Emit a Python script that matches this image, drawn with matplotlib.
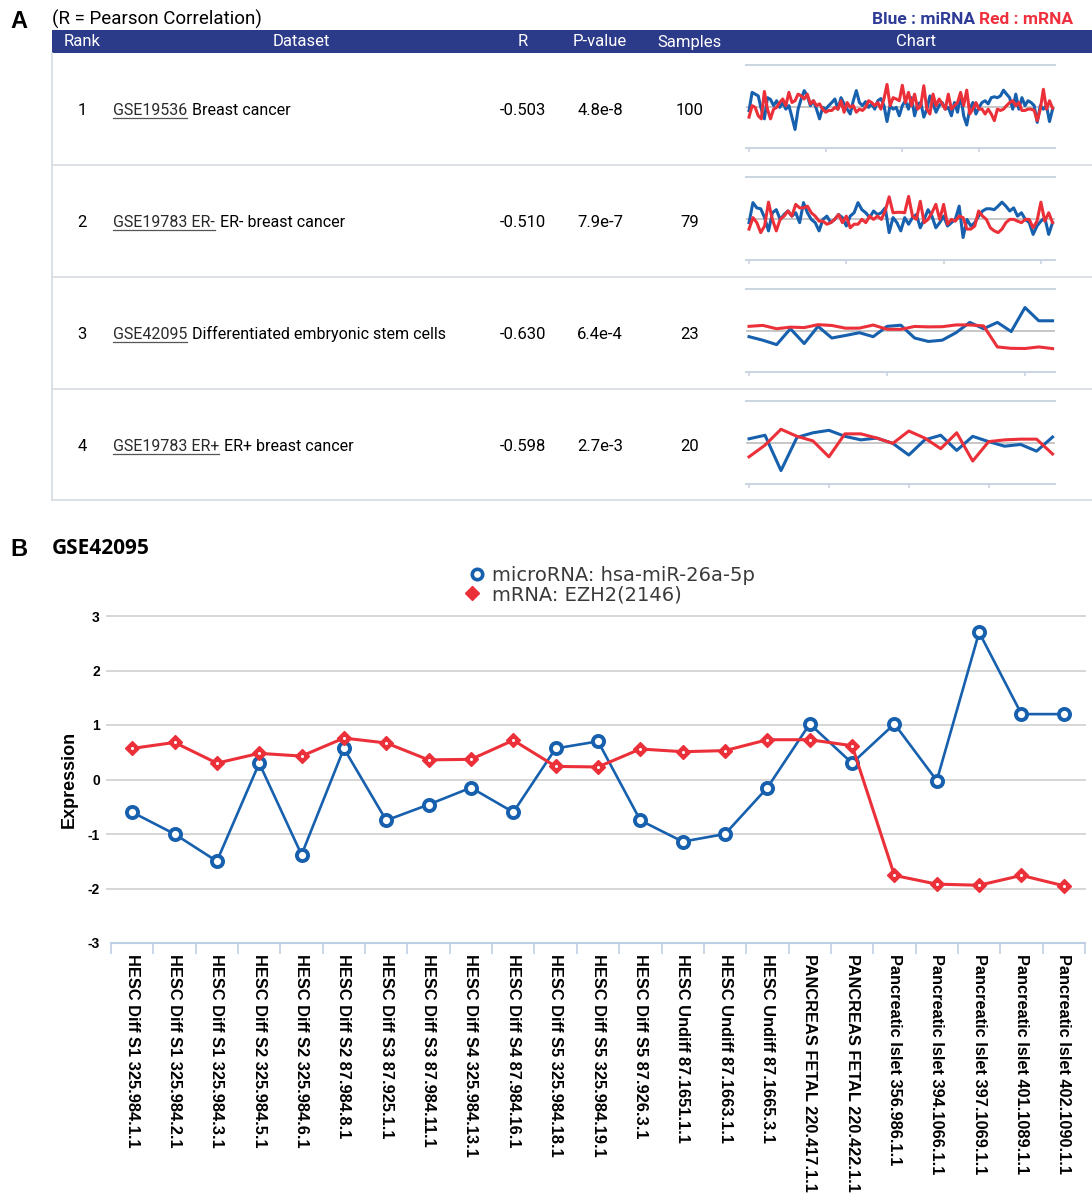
import matplotlib
matplotlib.use('Agg')
import matplotlib.pyplot as plt
from matplotlib.lines import Line2D
from matplotlib.patches import Rectangle
from matplotlib.legend_handler import HandlerTuple
import numpy as np

# ---------------- data ----------------
ranks = [1, 2, 3, 4]
dataset_ids = ['GSE19536', 'GSE19783 ER-', 'GSE42095', 'GSE19783 ER+']
dataset_desc = ['Breast cancer', 'ER- breast cancer',
                'Differentiated embryonic stem cells', 'ER+ breast cancer']
r_values = ['-0.503', '-0.510', '-0.630', '-0.598']
p_values = ['4.8e-8', '7.9e-7', '6.4e-4', '2.7e-3']
samples = [100, 79, 23, 20]
header_cols = ['Rank', 'Dataset', 'R', 'P-value', 'Samples', 'Chart']

spark1_mirna = [-0.37, 1.7, 1.5, 1.3, -0.2, -1.3, 1.1, 0.9, 0.2, 0.75,
                0, 0.55, -0.2, 0.2, -1.1, -2.5, -0.2, 0.95, 1.9, 1.3,
                0.2, 0.75, -0.2, -1.3, 0, -0.2, 0.2, 0.55, 0.95, -0.2,
                1.1, 0.4, -0.2, -0.75, 0.75, 1.9, 0.55, 0.2, 0.65, 0,
                0.4, -0.2, 0.75, 1.0, 0.2, -1.6, 0.2, -0.2, 0, -0.95,
                0.2, 0.75, -0.2, 1.1, -0.95, 0.4, 0.55, -1.1, -0.2, 1.3,
                0.4, -0.55, 0.2, 0.55, -0.2, 0, -0.95, 0.55, -0.55, 1.5,
                -0.95, -2.0, -0.2, 0.55, -0.75, 0, 0.55, 0.75, 0.4, 1.1,
                1.2, 1.1, 1.3, 1.95, 1.5, 1.1, -0.2, 1.5, -0.2, 1.1,
                0.2, 0.75, 0.55, 0.2, -1.7, 0.2, -0.2, 0.2, -1.6, -0.2]
spark1_mrna = [-1.1, 0.2, 0, -0.95, -1.3, 1.8, -0.2, -1.3, -0.2, 0,
               0.55, 0.95, 0.2, 1.7, 0.55, 0.75, 1.5, 1.3, 0.95, 1.5,
               0.4, 0.75, 0.2, 0.4, -0.2, -0.55, -0.35, -0.35, 0, -0.2,
               0.75, -0.55, 0.55, 0, 0.2, -0.55, -0.2, -0.35, 0, 0.75,
               0.55, 0.2, 0.55, -0.2, 0.95, 2.6, 0.2, 1.1, 0.95, 0.75,
               2.5, 0.55, 1.7, 0.2, 1.5, -0.2, 0.2, 2.45, -0.2, -0.75,
               1.5, 0.2, 0.95, 0.4, -0.2, 1.5, -0.2, 0.2, 0.55, 1.7,
               0.2, 1.95, -0.75, -0.2, 0.55, -0.2, -0.2, -0.75, -0.2, -0.75,
               -1.5, -0.2, -0.35, -0.2, 0.2, 0.55, 0.75, 0.2, 0.55, -0.35,
               -0.35, -0.2, -0.2, -0.35, -1.5, -0.2, 2.05, -0.2, 0.75, -0.1]

spark2_mirna = [-0.37, 1.9, 1.3, 1.2, 0.2, -1.3, 0.75, 1.1, 0, 0.55,
                0.95, 0.37, 0.75, -0.37, 1.9, 0.75, 0, -0.37, -1.3, 0,
                0.37, -0.37, 0, 0.55, 0.2, -0.75, 0.37, 0.75, 1.9, 1.1,
                0.75, 0.2, 0.95, 0.55, 0.75, 1.3, -1.5, 0.2, -0.37, -1.3,
                0.2, -0.55, 0.2, 0.55, -0.95, 0, 1.1, 0.37, -0.95, -0.37,
                0.37, -0.75, -0.37, 0, 1.5, -2.05, 0, -0.75, -0.37, 0.37,
                0.95, 1.2, 1.2, 1.1, 1.5, 1.95, 1.5, 0.95, 1.3, 0.37,
                0.75, 0, -0.37, -1.7, -0.75, -0.2, 0.2, -1.7, -0.37]
spark2_mrna = [-1.1, 0.2, -0.37, -1.5, -0.75, 1.95, 0, -1.3, 0, 0.37,
               0.95, 0.37, 1.7, 1.3, 1.3, 1.5, 0.75, 0.37, -0.2, -0.2,
               -0.55, -0.37, 0, 0.55, -0.37, 0.37, -0.95, -0.55, -0.55, 0,
               -0.37, 0.37, 0, 0.37, 0, 0.95, 2.55, 0.75, 0.8, 0.8,
               0.75, 2.6, 0.37, 0, 2.05, -0.37, 0, 0.75, 1.7, 0,
               1.7, -0.55, 0, -0.2, 0.37, 0.2, -1.1, -1.1, -0.75, 0.95,
               0.37, 0, -0.95, -1.3, -1.5, -1.1, -0.37, 0, 0, -0.2,
               -0.37, 0, 0, -0.95, -0.2, 1.95, -0.2, 0.75, -0.37]

spark4_mirna = [0.52, 0.92, -3.08, 0.68, 1.2, 1.48, 0.8, 0.4, 0.6, 0,
                -1.32, 0.4, 0.92, -0.8, 0.8, 0.2, -0.32, -0.12, -0.88, 0.72]
spark4_mrna = [-1.52, -0.2, 1.6, 0.8, 0.28, -1.52, 1.08, 1.08, 0.6, 0,
               1.4, 0.6, -0.6, 1.2, -2.0, 0.2, 0.4, 0.48, 0.48, -1.2]

# Panel B (GSE42095)
samples_b = ['HESC Diff S1 325.984.1.1', 'HESC Diff S1 325.984.2.1',
             'HESC Diff S1 325.984.3.1', 'HESC Diff S2 325.984.5.1',
             'HESC Diff S2 325.984.6.1', 'HESC Diff S2 87.984.8.1',
             'HESC Diff S3 87.925.1.1', 'HESC Diff S3 87.984.11.1',
             'HESC Diff S4 325.984.13.1', 'HESC Diff S4 87.984.16.1',
             'HESC Diff S5 325.984.18.1', 'HESC Diff S5 325.984.19.1',
             'HESC Diff S5 87.926.3.1', 'HESC Undiff 87.1651.1.1',
             'HESC Undiff 87.1663.1.1', 'HESC Undiff 87.1665.3.1',
             'PANCREAS FETAL 220.417.1.1', 'PANCREAS FETAL 220.422.1.1',
             'Pancreatic Islet 356.986.1.1', 'Pancreatic Islet 394.1066.1.1',
             'Pancreatic Islet 397.1069.1.1', 'Pancreatic Islet 401.1089.1.1',
             'Pancreatic Islet 402.1090.1.1']
mirna_b = [-0.6, -1.0, -1.5, 0.3, -1.38, 0.57, -0.75, -0.46, -0.15, -0.6,
           0.57, 0.7, -0.75, -1.14, -1.0, -0.15, 1.02, 0.3, 1.02, -0.02,
           2.7, 1.2, 1.2]
mrna_b = [0.57, 0.68, 0.3, 0.48, 0.43, 0.76, 0.67, 0.36, 0.37, 0.72,
          0.24, 0.23, 0.56, 0.51, 0.53, 0.73, 0.73, 0.62, -1.76, -1.92,
          -1.94, -1.76, -1.95]
yticks_b = [-3, -2, -1, 0, 1, 2, 3]

spark_data = [(spark1_mirna, spark1_mrna, 25), (spark2_mirna, spark2_mrna, 25),
              (mirna_b, mrna_b, 10), (spark4_mirna, spark4_mrna, 5)]

# ---------------- style ----------------
BLUE = '#1660AE'
RED = '#EC3039'
HEADER = '#2C3A8A'
GRID = '#D6DCE3'
COND = ['Liberation Sans Narrow', 'Roboto', 'DejaVu Sans']
ARIAL = ['Liberation Sans', 'DejaVu Sans']
VERD = ['DejaVu Sans']

W, H = 1092, 1193
fig = plt.figure(figsize=(W / 100, H / 100), dpi=100)
fig.patch.set_facecolor('white')


def fx(x):
    return x / W


def fy(y):
    return 1 - y / H


ax0 = fig.add_axes([0, 0, 1, 1])
ax0.set_xlim(0, W)
ax0.set_ylim(H, 0)
ax0.axis('off')

# ---------------- Panel A ----------------
ax0.text(10, 21, 'A', fontsize=17, fontweight='bold', family=ARIAL, va='center', ha='left')
ax0.text(52, 19, '(R = Pearson Correlation)', fontsize=13.5, family=COND,
         va='center', ha='left')
t_red = ax0.text(1073, 19, 'Red : mRNA', fontsize=12.5, family=COND, color='#F0303C',
                 va='center', ha='right', fontweight='bold')

ax0.add_patch(Rectangle((52, 30), W - 52, 23, facecolor=HEADER, edgecolor='none'))
head_x = [82, 301, 523, 600, 690, 916]
for hx, lab in zip(head_x, header_cols):
    ax0.text(hx, 42, lab, color='white', fontsize=12, family=COND,
             ha='center', va='center')

row_c = [110, 222, 334, 446]
row_sep = [165, 277, 389, 500]
ax0.plot([52, 52], [53, 500], color=GRID, lw=1.2)
for ys in row_sep:
    ax0.plot([52, W], [ys, ys], color=GRID, lw=1.2)

id_texts = []
for k in range(4):
    c = row_c[k]
    ax0.text(82, c + 5, str(ranks[k]), fontsize=12, family=COND, ha='center', va='baseline')
    t = ax0.text(113, c + 5, dataset_ids[k], fontsize=11.5, family=COND,
                 ha='left', va='baseline', color='#2a2a2a')
    id_texts.append(t)
    ax0.text(523, c + 5, r_values[k], fontsize=12, family=COND, ha='center', va='baseline')
    ax0.text(600, c + 5, p_values[k], fontsize=12, family=COND, ha='center', va='baseline')
    ax0.text(690, c + 5, str(samples[k]), fontsize=12, family=COND, ha='center', va='baseline')

fig.canvas.draw()
inv = ax0.transData.inverted()
for k, t in enumerate(id_texts):
    bb = t.get_window_extent()
    x0, _ = inv.transform((bb.x0, bb.y0))
    x1, _ = inv.transform((bb.x1, bb.y0))
    c = row_c[k]
    ax0.plot([x0, x1], [c + 7.5, c + 7.5], color='#555555', lw=0.9)
    ax0.text(x1 + 5, c + 5, dataset_desc[k], fontsize=11.5, family=COND,
             ha='left', va='baseline', color='black')
bb = t_red.get_window_extent()
xr, _ = inv.transform((bb.x0, bb.y0))
ax0.text(xr - 4, 19, 'Blue : miRNA', fontsize=12.5, family=COND, color='#2E3C98',
         va='center', ha='right', fontweight='bold')

# sparklines
for k, (mi, mr, step) in enumerate(spark_data):
    c = row_c[k]
    top, bot = c - 45, c + 38
    axs = fig.add_axes([fx(746), fy(bot), (1055 - 746) / W, (bot - top) / H])
    n = len(mi)
    xs = np.arange(n)
    axs.axhline(0, color='#BDBDBD', lw=1.2, zorder=1)
    axs.plot(xs, mi, color=BLUE, lw=2.2, zorder=3)
    axs.plot(xs, mr, color=RED, lw=2.2, zorder=3)
    axs.set_xlim(-0.01 * (n - 1), (n - 1) * 1.008)
    axs.set_ylim(-4.6, 4.8)
    for s in ['left', 'right']:
        axs.spines[s].set_visible(False)
    for s in ['top', 'bottom']:
        axs.spines[s].set_color('#CBD6E2')
        axs.spines[s].set_linewidth(1.5)
    axs.set_yticks([])
    axs.set_xticks(np.arange(0, n, step))
    axs.tick_params(axis='x', length=3, width=1.2, color='#CBD6E2', labelbottom=False)
    axs.patch.set_alpha(0)

# ---------------- Panel B ----------------
ax0.text(10, 549, 'B', fontsize=17, fontweight='bold', family=ARIAL, va='center', ha='left')
ax0.text(52, 548, 'GSE42095', fontsize=15, fontweight='bold', family=['Open Sans', 'DejaVu Sans'],
         va='center', ha='left')

axb = fig.add_axes([fx(111), fy(943), (1085 - 111) / W, (943 - 616) / H])
xb = np.arange(len(samples_b))
axb.set_xlim(-0.5, len(samples_b) - 0.5)
axb.set_ylim(-3, 3)
axb.set_yticks(yticks_b)
axb.set_yticklabels([str(v) for v in yticks_b], fontsize=10, fontweight='bold', family=ARIAL)
for v in yticks_b[1:]:
    axb.axhline(v, color='#D3D3D3', lw=1.3, zorder=0, xmin=-0.004, clip_on=False)
axb.tick_params(axis='y', length=0, pad=8)
for s in ['left', 'right', 'top']:
    axb.spines[s].set_visible(False)
axb.spines['bottom'].set_color('#BFD0E4')
axb.spines['bottom'].set_linewidth(1.5)
axb.set_xticks(xb)
axb.set_xticklabels(samples_b, rotation=270, ha='center', va='top', fontsize=11.8,
                    fontweight='bold', family=ARIAL)
axb.set_xticks(np.arange(-0.5, len(samples_b), 1), minor=True)
axb.tick_params(axis='x', which='major', length=0, pad=8)
axb.tick_params(axis='x', which='minor', length=8, width=1.2, color='#BFD0E4')
axb.set_ylabel('Expression', fontsize=13, fontweight='bold', family=ARIAL, labelpad=7)

axb.plot(xb, mirna_b, color=BLUE, lw=1.9, marker='o', markersize=8,
         markerfacecolor='white', markeredgecolor=BLUE, markeredgewidth=2.8, zorder=3)
axb.plot(xb, mrna_b, color=RED, lw=2.2, marker='D', markersize=7.5,
         markerfacecolor=RED, markeredgecolor=RED, zorder=4)
axb.plot(xb, mrna_b, linestyle='none', marker='o', markersize=2.2,
         markerfacecolor='white', markeredgecolor='none', zorder=5)
axb.patch.set_alpha(0)

h_blue = Line2D([], [], linestyle='none', marker='o', markersize=7.5, markerfacecolor='white',
                markeredgecolor=BLUE, markeredgewidth=2.6)
h_red = Line2D([], [], linestyle='none', marker='D', markersize=7, markerfacecolor=RED,
               markeredgecolor=RED)
h_dot = Line2D([], [], linestyle='none', marker='o', markersize=2.2, markerfacecolor='white',
               markeredgecolor='none')
fig.legend([h_blue, (h_red, h_dot)],
           ['microRNA: hsa-miR-26a-5p', 'mRNA: EZH2(2146)'],
           handler_map={tuple: HandlerTuple(ndivide=None, pad=0)},
           loc='center left', bbox_to_anchor=(fx(467), fy(585)), frameon=False,
           prop={'family': VERD, 'size': 14}, labelcolor='#3a3a3a',
           handlelength=1.0, handletextpad=0.3,
           labelspacing=0.02, borderpad=0, borderaxespad=0)

fig.savefig('out.png', dpi=100, facecolor='white')
